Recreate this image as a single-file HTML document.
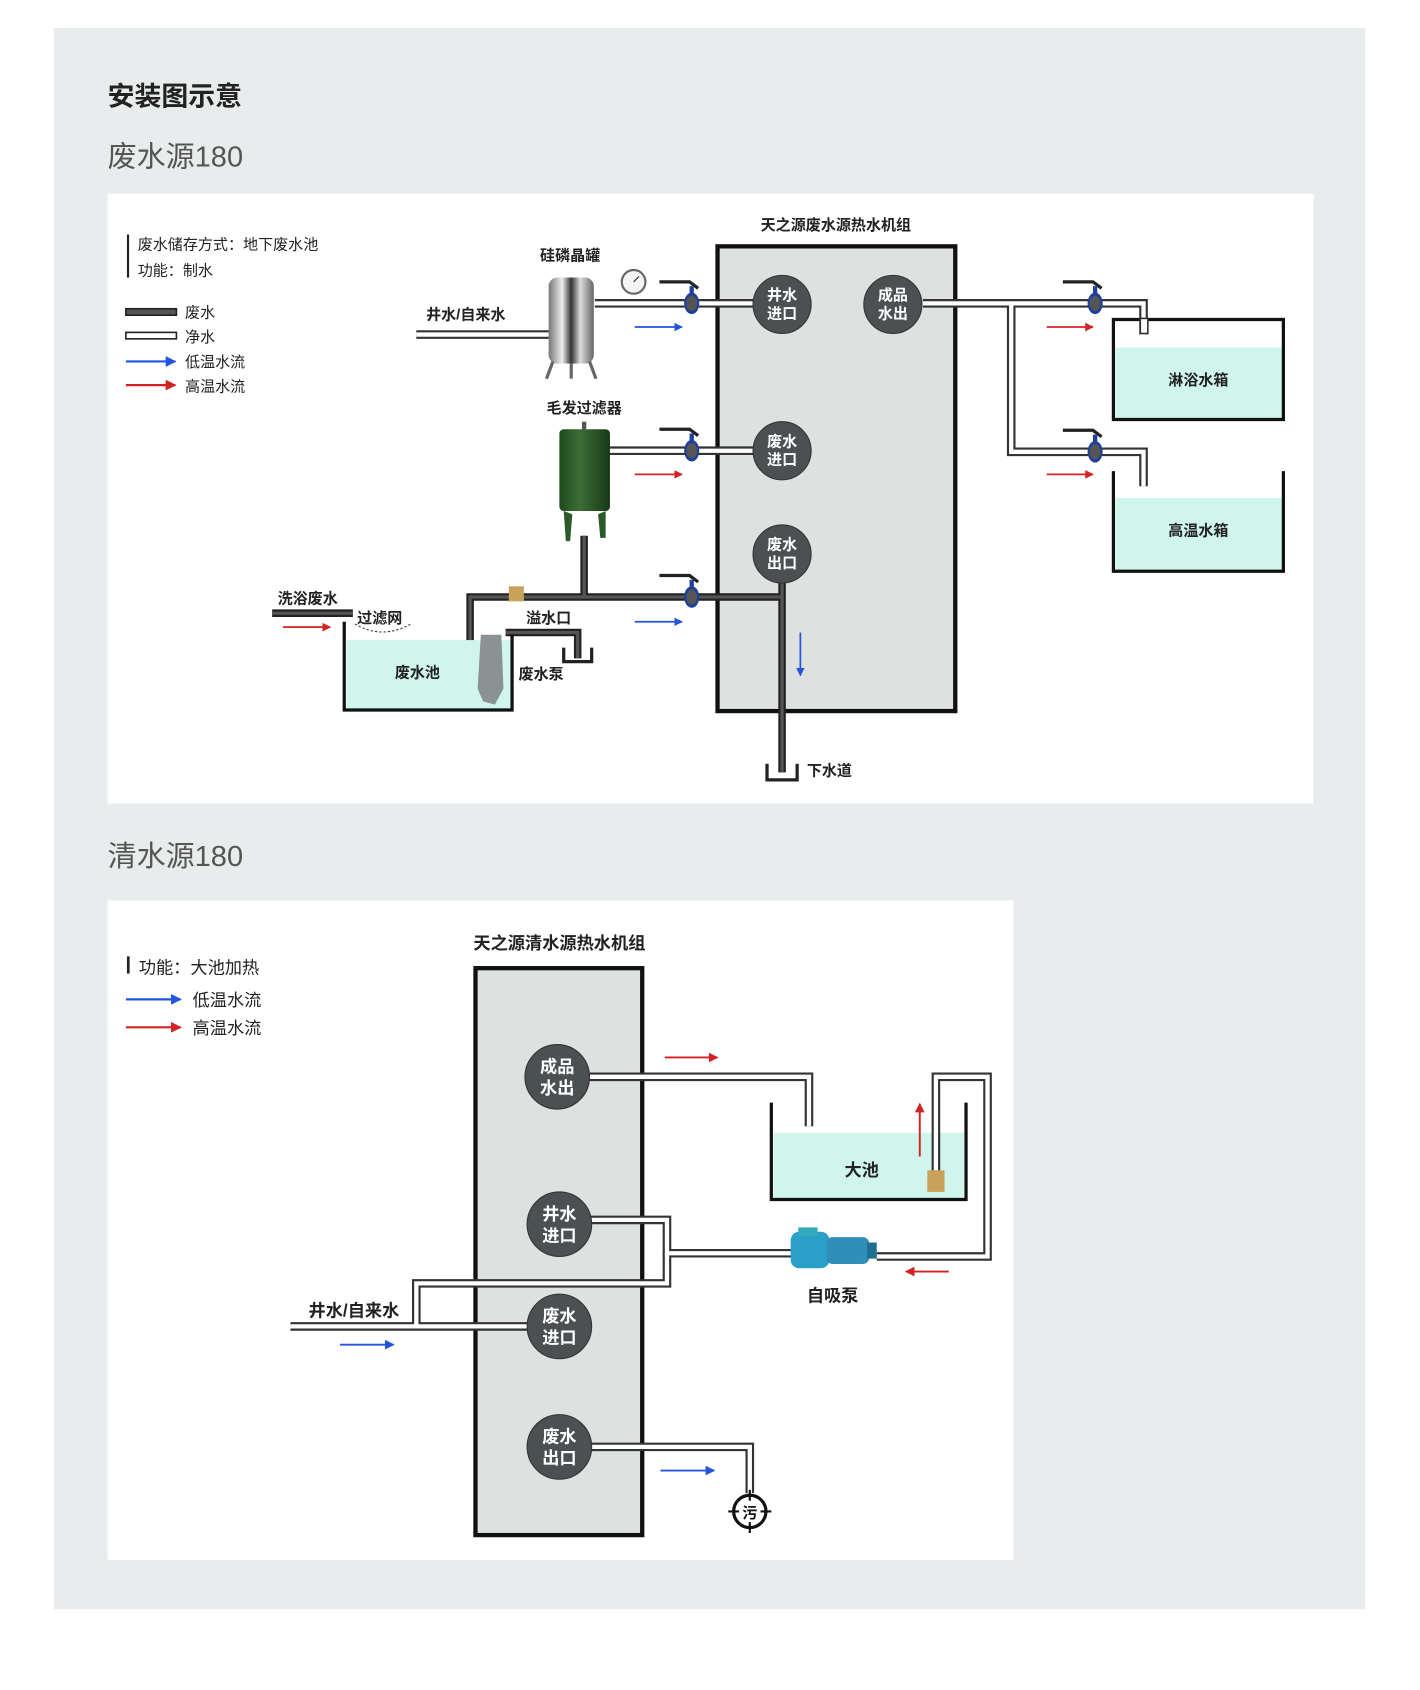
<!DOCTYPE html>
<html><head><meta charset="utf-8"><style>
html,body{margin:0;padding:0;background:#fff;}
svg{display:block;}
text{font-family:"Liberation Sans","Noto Sans CJK SC",sans-serif;}
.b{font-weight:bold;}
</style></head><body>
<svg width="1420" height="1690" viewBox="0 0 1320 1571" preserveAspectRatio="none" xmlns="http://www.w3.org/2000/svg">
<defs>
<marker id="ab" viewBox="0 0 10 10" refX="9" refY="5" markerWidth="5" markerHeight="5" orient="auto"><path d="M0,0 L10,5 L0,10 z" fill="#2255dd"/></marker>
<marker id="ar" viewBox="0 0 10 10" refX="9" refY="5" markerWidth="5" markerHeight="5" orient="auto"><path d="M0,0 L10,5 L0,10 z" fill="#d42222"/></marker>
<linearGradient id="steel" x1="0" x2="1"><stop offset="0" stop-color="#777"/><stop offset=".3" stop-color="#eee"/><stop offset=".5" stop-color="#333"/><stop offset=".7" stop-color="#ddd"/><stop offset="1" stop-color="#666"/></linearGradient>
<linearGradient id="green" x1="0" x2="1"><stop offset="0" stop-color="#1f4a1f"/><stop offset=".4" stop-color="#3c6e34"/><stop offset="1" stop-color="#183818"/></linearGradient>
<g id="valve"><path d="M-30,-20 L-2,-20 L6,-14" stroke="#222" stroke-width="3" fill="none"/><rect x="-2" y="-16" width="4" height="8" fill="#1f3f9a"/><ellipse cx="0" cy="0" rx="7" ry="10" fill="#1f3f9a"/><ellipse cx="0" cy="0" rx="5" ry="7" fill="#555"/></g>
</defs>
<rect x="0" y="0" width="1320" height="1571" fill="#fff"/>
<rect x="50" y="26" width="1219" height="1470" fill="#e9ecec"/>
<text x="100" y="98" font-size="25" class="b" fill="#222">安装图示意</text>
<text x="100" y="155" font-size="27" fill="#555">废水源180</text>
<text x="100" y="805" font-size="27" fill="#555">清水源180</text>
<rect x="100" y="180" width="1121" height="567" fill="#fff"/>
<rect x="100" y="837" width="842" height="613" fill="#fff"/>

<!-- Diagram 1 legend -->
<rect x="118" y="218" width="2" height="40" fill="#222"/>
<text x="128" y="232" font-size="14" fill="#222">废水储存方式：地下废水池</text>
<text x="128" y="256" font-size="14" fill="#222">功能：制水</text>
<rect x="117" y="287" width="47" height="6" fill="#555" stroke="#222" stroke-width="1.5"/>
<rect x="117" y="309" width="47" height="6" fill="#fff" stroke="#222" stroke-width="1.5"/>
<line x1="117" y1="336" x2="163" y2="336" stroke="#2255dd" stroke-width="2" marker-end="url(#ab)"/>
<line x1="117" y1="358" x2="163" y2="358" stroke="#d42222" stroke-width="2" marker-end="url(#ar)"/>
<text x="172" y="295" font-size="14" fill="#222">废水</text>
<text x="172" y="318" font-size="14" fill="#222">净水</text>
<text x="172" y="341" font-size="14" fill="#222">低温水流</text>
<text x="172" y="364" font-size="14" fill="#222">高温水流</text>

<!-- unit -->
<text x="777" y="214" font-size="14" class="b" text-anchor="middle" fill="#222">天之源废水源热水机组</text>
<rect x="667" y="229" width="221" height="432" fill="#dde1e0" stroke="#111" stroke-width="4"/>

<!-- clean pipes diagram1 -->
<g fill="none" stroke-linejoin="miter">
<g stroke="#333" stroke-width="8">
<polyline points="387,311 512,311"/>
<polyline points="553,282 700,282"/>
<polyline points="566,419 700,419"/>
<polyline points="858,282 1063,282 1063,311"/>
<polyline points="940,282 940,420 1063,420 1063,452"/>
</g>
<g stroke="#fff" stroke-width="4">
<polyline points="387,311 512,311"/>
<polyline points="553,282 700,282"/>
<polyline points="566,419 700,419"/>
<polyline points="858,282 1063,282 1063,311"/>
<polyline points="940,282 940,420 1063,420 1063,452"/>
</g>
<!-- dark pipes -->
<g stroke="#222" stroke-width="7">
<polyline points="543,498 543,555"/>
<polyline points="437,640 437,555 727,555"/>
<polyline points="727,540 727,718"/>
<polyline points="470,588 537,588 537,612"/>
<polyline points="253,570 328,570"/>
</g>
<g stroke="#555" stroke-width="3">
<polyline points="543,498 543,555"/>
<polyline points="437,640 437,555 727,555"/>
<polyline points="727,540 727,718"/>
<polyline points="470,588 537,588 537,612"/>
<polyline points="253,570 328,570"/>
</g>
</g>
<!-- drains -->
<path d="M713,710 L713,725 L741,725 L741,710" stroke="#222" stroke-width="3" fill="none"/>
<path d="M524,602 L524,615 L550,615 L550,602" stroke="#222" stroke-width="3" fill="none"/>
<text x="750" y="721" font-size="14" class="b" fill="#222">下水道</text>

<!-- circles -->
<g fill="#4b5052" stroke="#333" stroke-width="1">
<circle cx="727" cy="283" r="27"/><circle cx="830" cy="283" r="27"/><circle cx="727" cy="419" r="27"/><circle cx="727" cy="515" r="27"/>
</g>
<g font-size="14" class="b" fill="#fff" text-anchor="middle">
<text x="727" y="279">井水</text><text x="727" y="296">进口</text>
<text x="830" y="279">成品</text><text x="830" y="296">水出</text>
<text x="727" y="415">废水</text><text x="727" y="432">进口</text>
<text x="727" y="511">废水</text><text x="727" y="528">出口</text>
</g>

<!-- valves -->
<use href="#valve" x="643" y="282"/><use href="#valve" x="643" y="419"/><use href="#valve" x="643" y="555"/>
<use href="#valve" x="1018" y="282"/><use href="#valve" x="1018" y="420"/>

<!-- tank silicon -->
<text x="530" y="242" font-size="14" class="b" text-anchor="middle" fill="#222">硅磷晶罐</text>
<rect x="510" y="258" width="42" height="80" rx="8" fill="url(#steel)"/>
<path d="M514,336 L508,352 M548,336 L554,352 M531,338 L531,352" stroke="#666" stroke-width="3"/>
<circle cx="589" cy="262" r="11" fill="#f4f4f4" stroke="#666" stroke-width="2"/>
<line x1="589" y1="262" x2="594" y2="257" stroke="#222"/>
<text x="433" y="297" font-size="14" class="b" text-anchor="middle" fill="#222">井水/自来水</text>

<!-- hair filter -->
<text x="543" y="384" font-size="14" class="b" text-anchor="middle" fill="#222">毛发过滤器</text>
<rect x="520" y="399" width="47" height="76" rx="4" fill="url(#green)"/>
<path d="M524,475 L526,503 L530,503 L532,478 M556,478 L558,500 L563,500 L563,475" fill="#2c5a2a"/>
<rect x="541" y="392" width="4" height="8" fill="#555"/>

<!-- output tanks -->
<rect x="1037" y="323" width="155" height="66" fill="#cff5ec"/>
<path d="M1035,311 L1035,390 L1193,390 L1193,297 L1035,297 L1035,311" stroke="#111" stroke-width="3" fill="none"/>
<rect x="1060" y="296" width="7" height="14" fill="#fff" stroke="#333" stroke-width="1.5"/>
<text x="1114" y="358" font-size="14" class="b" text-anchor="middle" fill="#222">淋浴水箱</text>
<rect x="1037" y="463" width="155" height="67" fill="#cff5ec"/>
<path d="M1035,438 L1035,531 L1193,531 L1193,438" stroke="#111" stroke-width="3" fill="none"/>
<text x="1114" y="498" font-size="14" class="b" text-anchor="middle" fill="#222">高温水箱</text>

<!-- waste pool -->
<rect x="322" y="595" width="153" height="64" fill="#cff5ec"/>
<path d="M320,578 L320,660 L476,660 L476,590" stroke="#111" stroke-width="3" fill="none"/>
<text x="388" y="630" font-size="14" class="b" text-anchor="middle" fill="#222">废水池</text>
<path d="M447,590 L466,590 L468,640 L460,655 L449,652 L444,640 Z" fill="#8a9294"/>
<rect x="473" y="545" width="14" height="14" fill="#c8a25a"/>
<text x="503" y="631" font-size="14" class="b" text-anchor="middle" fill="#222">废水泵</text>
<text x="510" y="579" font-size="14" class="b" text-anchor="middle" fill="#222">溢水口</text>
<text x="286" y="561" font-size="14" class="b" text-anchor="middle" fill="#222">洗浴废水</text>
<text x="353" y="579" font-size="14" class="b" text-anchor="middle" fill="#222">过滤网</text>
<path d="M330,580 Q355,595 382,580" stroke="#333" stroke-dasharray="2,2" fill="none"/>

<!-- arrows diagram1 -->
<g stroke-width="1.6">
<line x1="590" y1="304" x2="634" y2="304" stroke="#2255dd" marker-end="url(#ab)"/>
<line x1="590" y1="578" x2="634" y2="578" stroke="#2255dd" marker-end="url(#ab)"/>
<line x1="744" y1="588" x2="744" y2="628" stroke="#2255dd" marker-end="url(#ab)"/>
<line x1="590" y1="441" x2="634" y2="441" stroke="#d42222" marker-end="url(#ar)"/>
<line x1="263" y1="583" x2="307" y2="583" stroke="#d42222" marker-end="url(#ar)"/>
<line x1="973" y1="304" x2="1016" y2="304" stroke="#d42222" marker-end="url(#ar)"/>
<line x1="973" y1="441" x2="1016" y2="441" stroke="#d42222" marker-end="url(#ar)"/>
</g>

<!-- Diagram 2 -->
<rect x="118" y="889" width="2.5" height="16" fill="#222"/>
<text x="129" y="905" font-size="16" fill="#222">功能：大池加热</text>
<line x1="117" y1="929" x2="168" y2="929" stroke="#2255dd" stroke-width="2" marker-end="url(#ab)"/>
<line x1="117" y1="955" x2="168" y2="955" stroke="#d42222" stroke-width="2" marker-end="url(#ar)"/>
<text x="179" y="935" font-size="16" fill="#222">低温水流</text>
<text x="179" y="961" font-size="16" fill="#222">高温水流</text>

<text x="520" y="882" font-size="16" class="b" text-anchor="middle" fill="#222">天之源清水源热水机组</text>
<rect x="442" y="900" width="155" height="527" fill="#dde1e0" stroke="#111" stroke-width="4"/>

<rect x="719" y="1053" width="177" height="61" fill="#cff5ec"/>
<path d="M717,1025 L717,1115 L898,1115 L898,1025" stroke="#111" stroke-width="3" fill="none"/>
<text x="801" y="1093" font-size="16" class="b" text-anchor="middle" fill="#222">大池</text>

<g fill="none">
<g stroke="#333" stroke-width="8">
<polyline points="548,1001 752,1001 752,1047"/>
<polyline points="870,1088 870,1001 918,1001 918,1168 815,1168"/>
<polyline points="740,1165 620,1165 620,1134 548,1134"/>
<polyline points="620,1165 620,1193 387,1193 387,1232"/>
<polyline points="270,1233 492,1233"/>
<polyline points="550,1345 697,1345 697,1388"/>
</g>
<g stroke="#fff" stroke-width="4">
<polyline points="548,1001 752,1001 752,1047"/>
<polyline points="870,1088 870,1001 918,1001 918,1168 815,1168"/>
<polyline points="740,1165 620,1165 620,1134 548,1134"/>
<polyline points="620,1165 620,1193 387,1193 387,1232"/>
<polyline points="270,1233 492,1233"/>
<polyline points="550,1345 697,1345 697,1388"/>
</g>
</g>
<rect x="862" y="1088" width="16" height="20" fill="#c8a25a"/>

<g fill="#4b5052" stroke="#333" stroke-width="1">
<circle cx="518" cy="1001" r="30"/><circle cx="520" cy="1138" r="30"/><circle cx="520" cy="1233" r="30"/><circle cx="520" cy="1345" r="30"/>
</g>
<g font-size="16" class="b" fill="#fff" text-anchor="middle">
<text x="518" y="997">成品</text><text x="518" y="1017">水出</text>
<text x="520" y="1134">井水</text><text x="520" y="1154">进口</text>
<text x="520" y="1229">废水</text><text x="520" y="1249">进口</text>
<text x="520" y="1341">废水</text><text x="520" y="1361">出口</text>
</g>

<!-- pump -->
<g>
<rect x="735" y="1145" width="36" height="34" rx="8" fill="#2a9fc8"/>
<rect x="768" y="1150" width="40" height="25" rx="6" fill="#2f8fb8"/>
<rect x="806" y="1155" width="9" height="15" fill="#1f6f90"/>
<rect x="742" y="1141" width="18" height="8" fill="#3ab"/>
</g>
<text x="774" y="1210" font-size="16" class="b" text-anchor="middle" fill="#222">自吸泵</text>
<text x="329" y="1224" font-size="16" class="b" text-anchor="middle" fill="#222">井水/自来水</text>

<!-- sewer -->
<circle cx="697" cy="1405" r="15" fill="#fff" stroke="#111" stroke-width="3"/>
<path d="M677,1405 L717,1405 M697,1385 L697,1425" stroke="#111" stroke-width="2"/>
<circle cx="697" cy="1405" r="10" fill="#fff"/>
<text x="697" y="1411" font-size="14" class="b" text-anchor="middle" fill="#111">污</text>

<g stroke-width="1.8">
<line x1="618" y1="983" x2="667" y2="983" stroke="#d42222" marker-end="url(#ar)"/>
<line x1="855" y1="1075" x2="855" y2="1026" stroke="#d42222" marker-end="url(#ar)"/>
<line x1="882" y1="1182" x2="842" y2="1182" stroke="#d42222" marker-end="url(#ar)"/>
<line x1="316" y1="1250" x2="366" y2="1250" stroke="#2255dd" marker-end="url(#ab)"/>
<line x1="614" y1="1367" x2="664" y2="1367" stroke="#2255dd" marker-end="url(#ab)"/>
</g>
</svg>
</body></html>
